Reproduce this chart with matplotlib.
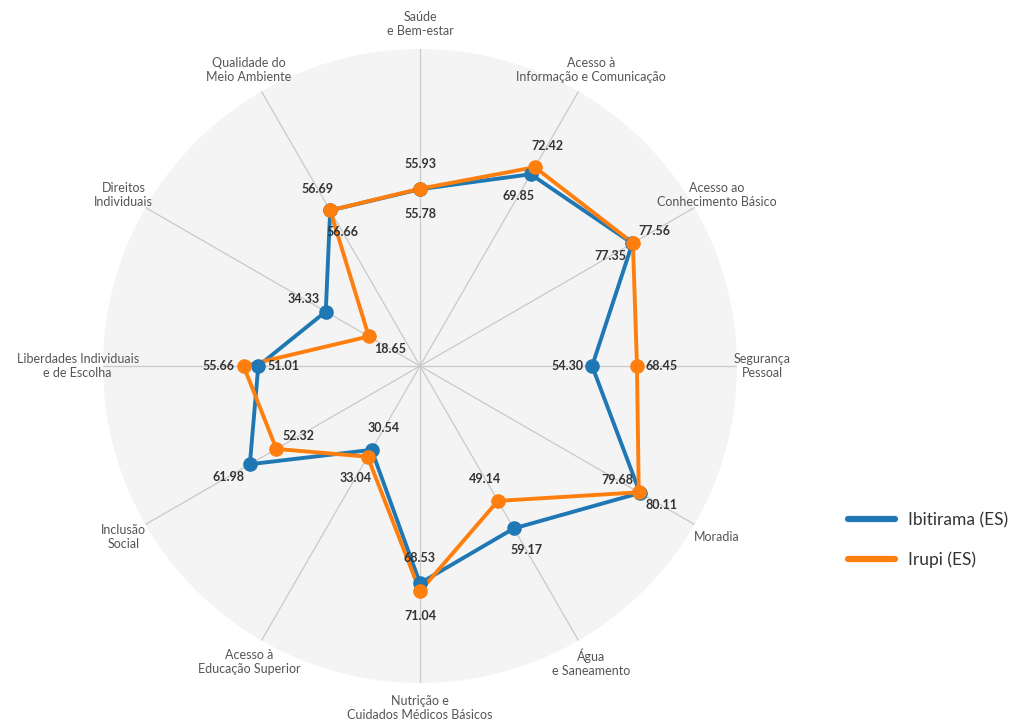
import numpy as np
import matplotlib.pyplot as plt

categories = [
    "Saúde\ne Bem-estar",
    "Acesso à\nInformação e Comunicação",
    "Acesso ao\nConhecimento Básico",
    "Segurança\nPessoal",
    "Moradia",
    "Água\ne Saneamento",
    "Nutrição e\nCuidados Médicos Básicos",
    "Acesso à\nEducação Superior",
    "Inclusão\nSocial",
    "Liberdades Individuais\ne de Escolha",
    "Direitos\nIndividuais",
    "Qualidade do\nMeio Ambiente",
]
ibitirama = [55.78, 69.85, 77.35, 54.30, 80.11, 59.17, 68.53, 30.54, 61.98, 51.01, 34.33, 56.66]
irupi = [55.93, 72.42, 77.56, 68.45, 79.68, 49.14, 71.04, 33.04, 52.32, 55.66, 18.65, 56.69]
series_names = ["Ibitirama (ES)", "Irupi (ES)"]
colors = ["#1f77b4", "#ff7f0e"]

plt.rcParams['font.family'] = ['Lato', 'DejaVu Sans']

fig = plt.figure(figsize=(10.17, 7.22), dpi=100)
# polar area: centre (420, 366) px, radius 317 px
ax = fig.add_axes([103 / 1017, 39 / 722, 634 / 1017, 634 / 722], projection='polar')
ax.set_theta_zero_location('N')
ax.set_theta_direction(-1)
ax.set_facecolor('#f4f4f4')
ax.spines['polar'].set_visible(False)

n = len(categories)
theta = np.deg2rad(np.arange(n) * 360 / n)

ax.set_ylim(0, 100)
ax.set_yticks([])
ax.set_xticks(theta)
ax.set_xticklabels([])
ax.tick_params(axis='x', length=0)
ax.xaxis.grid(True, color='#c9c9c9', linewidth=0.9)

for i, cat in enumerate(categories):
    ax.text(theta[i], 108, cat, ha='center', va='center', fontsize=9,
            color='#555555', linespacing=1.2)

data = [ibitirama, irupi]
for vals, name, col in zip(data, series_names, colors):
    t = np.append(theta, theta[0])
    v = np.append(vals, vals[0])
    ax.plot(t, v, color=col, linewidth=2.8, label=name, zorder=3)
    ax.plot(theta, vals, 'o', color=col, markersize=9.5, zorder=4)

# value labels: larger value outward, smaller value inward
d = 25
for i in range(n):
    a, b = ibitirama[i], irupi[i]
    for val, other in ((a, b), (b, a)):
        sign = 1 if val >= other else -1
        dx = sign * d * np.sin(theta[i])
        dy = sign * d * np.cos(theta[i])
        ax.annotate(f"{val:.2f}", (theta[i], val), xytext=(dx, dy),
                    textcoords='offset pixels', ha='center', va='center',
                    fontsize=9, fontweight='bold', color='#333333', zorder=5)

fig.legend(loc='center left', bbox_to_anchor=(832 / 1017, 1 - 540 / 722),
           frameon=False, fontsize=12.5, handlelength=2.7, handletextpad=0.8,
           labelspacing=1.35, labelcolor='#333333')
for line in fig.legends[0].get_lines():
    line.set_linewidth(4.5)
    line.set_solid_capstyle('round')

fig.savefig('out.png', dpi=100)
